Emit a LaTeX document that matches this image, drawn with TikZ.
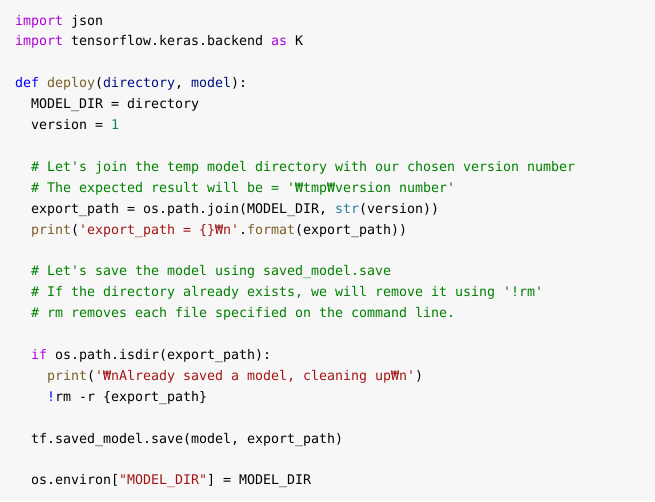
\documentclass[tikz,border=0pt]{standalone}
\usepackage{fontspec}
\setmonofont{DejaVu Sans Mono}
\definecolor{bg}{HTML}{F7F7F7}
\definecolor{kw}{HTML}{AF00DB}
\definecolor{kb}{HTML}{0000FF}
\definecolor{fn}{HTML}{795E26}
\definecolor{pa}{HTML}{001080}
\definecolor{nu}{HTML}{098658}
\definecolor{cm}{HTML}{008000}
\definecolor{st}{HTML}{A31515}
\definecolor{cl}{HTML}{267F99}
\definecolor{tx}{HTML}{000000}
\newcommand{\K}[1]{\textcolor{kw}{#1}}
\newcommand{\B}[1]{\textcolor{kb}{#1}}
\newcommand{\F}[1]{\textcolor{fn}{#1}}
\newcommand{\Pa}[1]{\textcolor{pa}{#1}}
\newcommand{\N}[1]{\textcolor{nu}{#1}}
\newcommand{\Cm}[1]{\textcolor{cm}{#1}}
\newcommand{\St}[1]{\textcolor{st}{#1}}
\newcommand{\Cl}[1]{\textcolor{cl}{#1}}
\begin{document}
\begin{tikzpicture}[x=0.75pt,y=-0.75pt,
  codeline/.style={anchor=base west,inner sep=0pt,outer sep=0pt,text=tx,
    font=\ttfamily\fontsize{9.97}{12}\selectfont}]
\fill[bg] (0,0) rectangle (655,501);
\useasboundingbox (0,0) rectangle (655,501);
\def\lh{20.9}
\node[codeline] (l1) at (15,25) {\K{import} json};
\node[codeline] (l2) at (15,25+1*\lh) {\K{import} tensorflow.keras.backend \K{as} K};
\node[codeline] (l4) at (15,25+3*\lh) {\B{def} \F{deploy}(\Pa{directory}, \Pa{model}):};
\node[codeline] (l5) at (31,25+4*\lh) {MODEL\_DIR = directory};
\node[codeline] (l6) at (31,25+5*\lh) {version = \N{1}};
\node[codeline] (l8) at (31,25+7*\lh) {\Cm{\# Let's join the temp model directory with our chosen version number}};
\node[codeline] (l9) at (31,25+8*\lh) {\Cm{\# The expected result will be = '₩tmp₩version number'}};
\node[codeline] (l10) at (31,25+9*\lh) {export\_path = os.path.join(MODEL\_DIR, \Cl{str}(version))};
\node[codeline] (l11) at (31,25+10*\lh) {\F{print}(\St{'export\_path = \{\}₩n'}.\F{format}(export\_path))};
\node[codeline] (l13) at (31,25+12*\lh) {\Cm{\# Let's save the model using saved\_model.save}};
\node[codeline] (l14) at (31,25+13*\lh) {\Cm{\# If the directory already exists, we will remove it using '!rm'}};
\node[codeline] (l15) at (31,25+14*\lh) {\Cm{\# rm removes each file specified on the command line.}};
\node[codeline] (l17) at (31,25+16*\lh) {\K{if} os.path.isdir(export\_path):};
\node[codeline] (l18) at (47,25+17*\lh) {\F{print}(\St{'₩nAlready saved a model, cleaning up₩n'})};
\node[codeline] (l19) at (47,25+18*\lh) {\B{!}rm -r \{export\_path\}};
\node[codeline] (l21) at (31,25+20*\lh) {tf.saved\_model.save(model, export\_path)};
\node[codeline] (l23) at (31,25+22*\lh) {os.environ[\St{"MODEL\_DIR"}] = MODEL\_DIR};
\end{tikzpicture}
\end{document}
